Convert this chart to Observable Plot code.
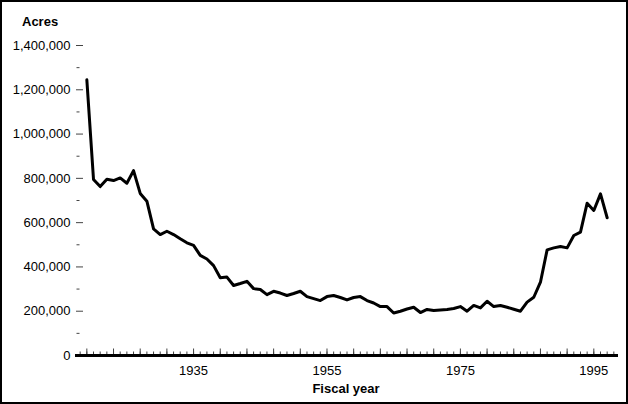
<!DOCTYPE html>
<html>
<head>
<meta charset="utf-8">
<script src="https://cdn.jsdelivr.net/npm/d3@7"></script>
<script src="https://cdn.jsdelivr.net/npm/@observablehq/plot@0.6"></script>
<style>
  body { margin: 0; background: #fff; }
  #wrap { position: relative; width: 628px; height: 404px; font-family: "Liberation Sans", Arial, sans-serif; }
  .lbl { position: absolute; font-weight: bold; font-size: 13px; line-height: 13px; color: #000; white-space: nowrap; }
  svg { outline: 2px solid #000; outline-offset: -2px; }
</style>
</head>
<body>
<div id="wrap">
  <div class="lbl" id="ylab" style="left:22px; top:15px;">Acres</div>
  <div class="lbl" id="xlab" style="left:346px; top:382px; transform: translateX(-50%);">Fiscal year</div>
</div>
<script>
const years = d3.range(1919, 1998);
const acres = [
  1245000, 795000, 763000, 796000, 790000, 802000, 778000, 835000, 732000, 697000,
  572000, 546000, 561000, 546000, 527000, 509000, 497000, 452000, 436000, 406000,
  351000, 354000, 316000, 325000, 335000, 302000, 298000, 275000, 290000, 282000,
  271000, 280000, 290000, 266000, 257000, 248000, 266000, 271000, 262000, 251000,
  262000, 266000, 248000, 237000, 221000, 221000, 192000, 200000, 210000, 218000,
  194000, 208000, 203000, 206000, 208000, 212000, 221000, 200000, 226000, 215000,
  245000, 221000, 226000, 218000, 209000, 200000, 241000, 263000, 331000, 477000,
  486000, 492000, 486000, 542000, 557000, 688000, 655000, 730000, 622000
];
const yMajorTicks = [0, 200000, 400000, 600000, 800000, 1000000, 1200000, 1400000];
const yMinorTicks = [100000, 300000, 500000, 700000, 900000, 1100000, 1300000];
const xLabelTicks = [1935, 1955, 1975, 1995];
const xMajorTicks = d3.range(1919, 1998, 4);
const xMinorTicks = d3.range(1918, 1999);

const data = years.map((y, i) => ({year: y, acres: acres[i]}));

const chart = Plot.plot({
  width: 628,
  height: 404,
  marginLeft: 75,
  marginRight: 10,
  marginTop: 45,
  marginBottom: 49,
  style: {fontFamily: "Liberation Sans, Arial, sans-serif", fontSize: "13px", color: "#000", background: "#fff"},
  x: {domain: [1917.3, 1998.7]},
  y: {domain: [0, 1400000]},
  marks: [
    Plot.axisY(yMajorTicks, {tickSize: 7, dx: 8, tickPadding: 6, stroke: "#444", fill: "#000", tickFormat: d3.format(","), label: null}),
    Plot.axisY(yMinorTicks, {tickSize: 3, dx: 4.5, stroke: "#444", fill: "none", label: null}),
    Plot.axisX(xMinorTicks, {tickSize: 3.5, dy: -3.5, stroke: "#444", fill: "none", label: null}),
    Plot.axisX(xMajorTicks, {tickSize: 6.5, dy: -6.5, stroke: "#444", fill: "none", label: null}),
    Plot.axisX(xLabelTicks, {tickSize: 0, tickPadding: 10, fill: "#000", tickFormat: d => String(d), label: null}),
    Plot.ruleY([0], {stroke: "#000", strokeWidth: 3}),
    Plot.line(data, {x: "year", y: "acres", stroke: "#000", strokeWidth: 3})
  ]
});
document.getElementById("wrap").prepend(chart);
</script>
</body>
</html>
